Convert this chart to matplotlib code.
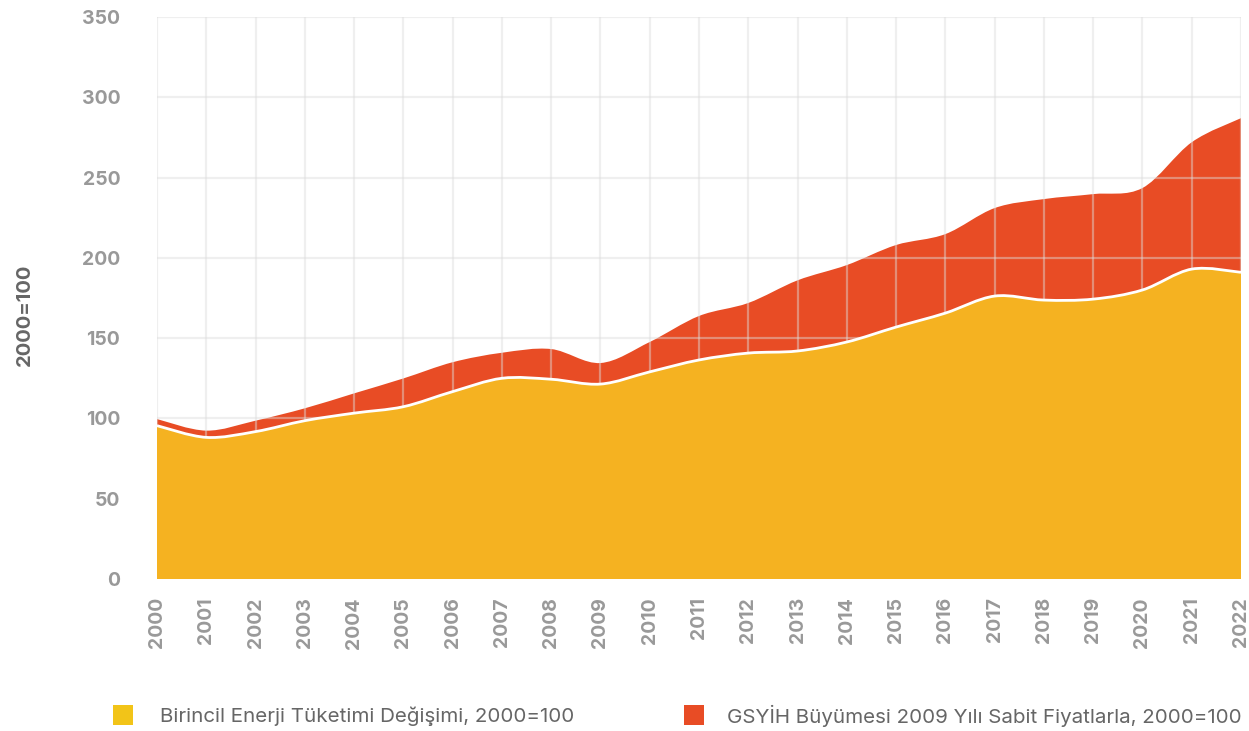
import matplotlib
matplotlib.use("Agg")
import matplotlib.pyplot as plt
from matplotlib.path import Path
from matplotlib.patches import PathPatch, Rectangle
import numpy as np

years = list(range(2000, 2023))
energy = [95.5, 88.2, 91.8, 98.6, 103.3, 107.3, 116.7, 125.0, 124.4, 121.4, 129.0,
          136.4, 140.7, 142.0, 147.6, 156.9, 165.6, 176.2, 173.7, 174.3, 180.0, 193.0, 191.0]
gdp = [99.6, 92.4, 98.6, 106.3, 115.6, 124.9, 135.0, 140.9, 143.2, 134.5, 147.6,
       163.8, 171.9, 186.0, 195.5, 208.0, 214.8, 231.0, 236.6, 239.7, 243.5, 272.0, 287.0]
y_ticks = [0, 50, 100, 150, 200, 250, 300, 350]
y_label = "2000=100"
legend_labels = ["Birincil Enerji Tüketimi Değişimi, 2000=100",
                 "GSYİH Büyümesi 2009 Yılı Sabit Fiyatlarla, 2000=100"]

C_ENERGY = "#F5B221"
C_GDP = "#E84C25"
C_LEG_ENERGY = "#F2C418"
FONT = ["Inter", "DejaVu Sans"]
plt.rcParams["font.family"] = FONT


def smooth_path(xs, ys):
    xs = np.asarray(xs, float)
    ys = np.asarray(ys, float)
    n = len(xs)
    verts = [(xs[0], ys[0])]
    codes = [Path.MOVETO]
    for i in range(n - 1):
        i0 = max(i - 1, 0)
        i3 = min(i + 2, n - 1)
        c1 = (xs[i] + (xs[i + 1] - xs[i0]) / 6.0, ys[i] + (ys[i + 1] - ys[i0]) / 6.0)
        c2 = (xs[i + 1] - (xs[i3] - xs[i]) / 6.0, ys[i + 1] - (ys[i3] - ys[i]) / 6.0)
        verts += [c1, c2, (xs[i + 1], ys[i + 1])]
        codes += [Path.CURVE4] * 3
    return verts, codes


def area_patch(xs, ys, color, z):
    v, c = smooth_path(xs, ys)
    v = v + [(xs[-1], 0), (xs[0], 0), (xs[0], ys[0])]
    c = c + [Path.LINETO, Path.LINETO, Path.CLOSEPOLY]
    return PathPatch(Path(v, c), facecolor=color, edgecolor="none", zorder=z)


W, H = 1249, 731
fig = plt.figure(figsize=(W / 100, H / 100), dpi=100)
fig.patch.set_facecolor("white")
ax = fig.add_axes([157 / W, 1 - 579 / H, (1241 - 157) / W, 562 / H])
ax.set_facecolor("white")

ax.add_patch(area_patch(years, gdp, C_GDP, 2))
ax.add_patch(area_patch(years, energy, C_ENERGY, 3))
v, c = smooth_path(years, energy)
ax.add_patch(PathPatch(Path(v, c), facecolor="none", edgecolor="white", lw=2.0, zorder=4))

ax.set_xlim(years[0], years[-1])
ax.set_ylim(0, 350)
ax.set_yticks(y_ticks)
ax.set_xticks(years)
ax.set_xticklabels([str(y) for y in years], rotation=90, va="top", ha="center")
for s in ax.spines.values():
    s.set_visible(False)
ax.grid(True, color="#dddddd", lw=1.6, alpha=0.45, zorder=5)
ax.set_axisbelow(False)
ax.tick_params(axis="both", length=0, labelsize=14, labelcolor="#999999")
ax.tick_params(axis="y", pad=26.5)
ax.tick_params(axis="x", pad=13)
for lab in ax.get_xticklabels() + ax.get_yticklabels():
    lab.set_fontweight("bold")

fig.text(25 / W, 1 - 315 / H, y_label, rotation=90, ha="center", va="center",
         fontsize=14.5, fontweight="bold", color="#666666")

# legend
fig.patches.append(Rectangle((113 / W, 1 - 725 / H), 20 / W, 20 / H,
                             transform=fig.transFigure, facecolor=C_LEG_ENERGY, edgecolor="none"))
fig.patches.append(Rectangle((684 / W, 1 - 725 / H), 20 / W, 20 / H,
                             transform=fig.transFigure, facecolor=C_GDP, edgecolor="none"))
fig.text(160 / W, 1 - 716 / H, legend_labels[0], ha="left", va="center",
         fontsize=14.8, color="#666666")
fig.text(727 / W, 1 - 716 / H, legend_labels[1], ha="left", va="center",
         fontsize=14.8, color="#666666")

fig.savefig("out.png", dpi=100, facecolor="white")
